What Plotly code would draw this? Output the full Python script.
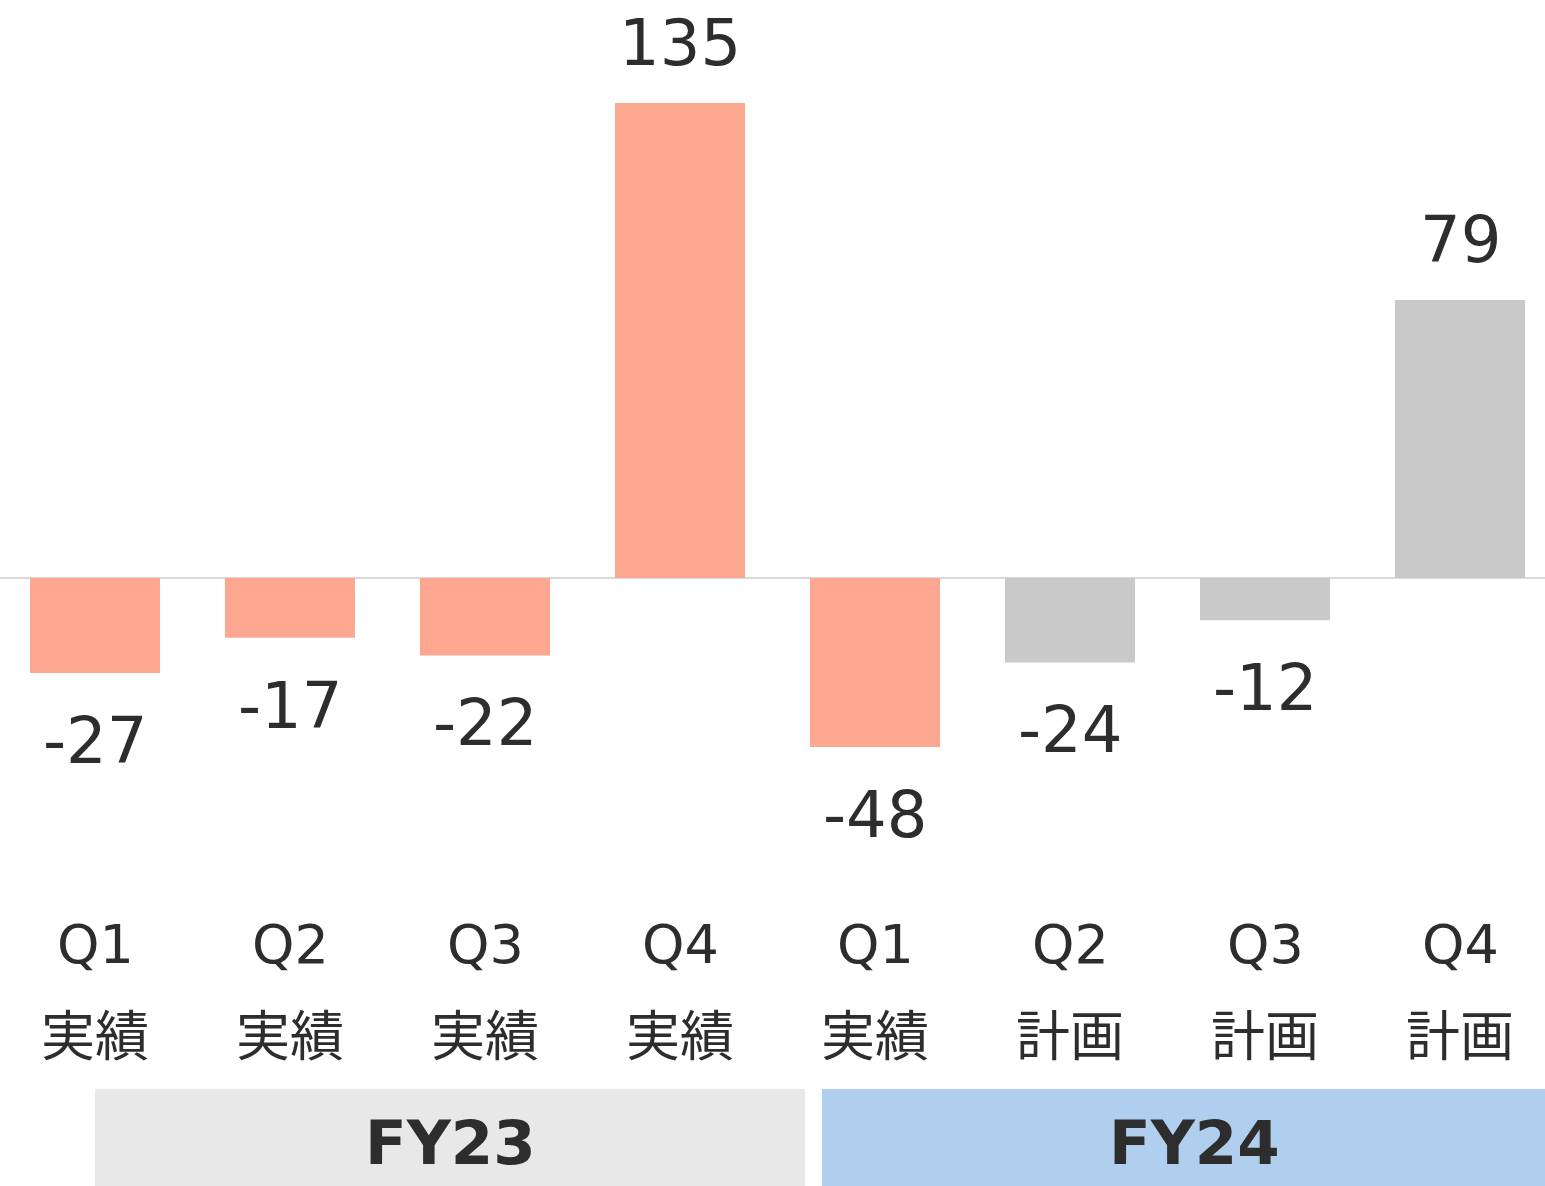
import plotly.graph_objects as go

quarters = ["Q1", "Q2", "Q3", "Q4", "Q1", "Q2", "Q3", "Q4"]
kinds = ["実績", "実績", "実績", "実績", "実績", "計画", "計画", "計画"]
values = [-27, -17, -22, 135, -48, -24, -12, 79]
years = ["FY23", "FY24"]

W, H = 1545, 1186
SALMON = "#fda791"
GRAY = "#c9c9c9"
TXT = "#2d2d2d"
FONT = "DejaVu Sans, Noto Sans CJK JP, sans-serif"
CJK = "Noto Sans CJK JP, sans-serif"

colors = [SALMON if k == "実績" else GRAY for k in kinds]
xs = list(range(len(values)))

def py(p):
    return 1 - p / H

fig = go.Figure()
fig.add_trace(go.Bar(x=xs, y=values, marker=dict(color=colors, line=dict(width=0)),
                     width=0.667, hoverinfo="skip"))

ann = []
for x, v in zip(xs, values):
    ann.append(dict(x=x, y=v, xref="x", yref="y", text=str(v), showarrow=False,
                    yanchor="middle", yshift=(60 if v > 0 else -68),
                    font=dict(size=64, color=TXT, family=FONT)))
for x, q, k in zip(xs, quarters, kinds):
    ann.append(dict(x=x, y=py(944), xref="x", yref="paper", text=q, showarrow=False,
                    yanchor="middle", font=dict(size=54, color=TXT, family=FONT)))
    ann.append(dict(x=x, y=py(1032), xref="x", yref="paper", text=k, showarrow=False,
                    yanchor="middle", font=dict(size=54, color=TXT, family=CJK)))

bands = [(0, 3.641, "#e8e8e8"), (3.728, 7.6, "#b0cfee")]
shapes = []
for (x0, x1, c), yr in zip(bands, years):
    shapes.append(dict(type="rect", xref="x", yref="paper", x0=x0, x1=x1,
                       y0=py(H), y1=py(1089), fillcolor=c, line=dict(width=0), layer="below"))
    ann.append(dict(x=(x0 + min(x1, 7.55)) / 2, y=py(1142), xref="x", yref="paper", text="<b>" + yr + "</b>",
                    showarrow=False, yanchor="middle",
                    font=dict(size=61, color=TXT, family=FONT)))

ppu = 475 / 135
fig.update_layout(
    width=W, height=H, margin=dict(l=0, r=0, t=0, b=0),
    paper_bgcolor="white", plot_bgcolor="white", showlegend=False,
    xaxis=dict(range=[-95 / 195, (W - 95) / 195], visible=False, fixedrange=True),
    yaxis=dict(range=[-(H - 578) / ppu, 578 / ppu], showgrid=False, showticklabels=False,
               zeroline=True, zerolinecolor="#d9d9d9", zerolinewidth=2, fixedrange=True),
    annotations=ann, shapes=shapes,
)
fig.write_html("out.html", config={"displayModeBar": False},
               post_script="document.body.style.margin='0';document.body.style.overflow='hidden';")
